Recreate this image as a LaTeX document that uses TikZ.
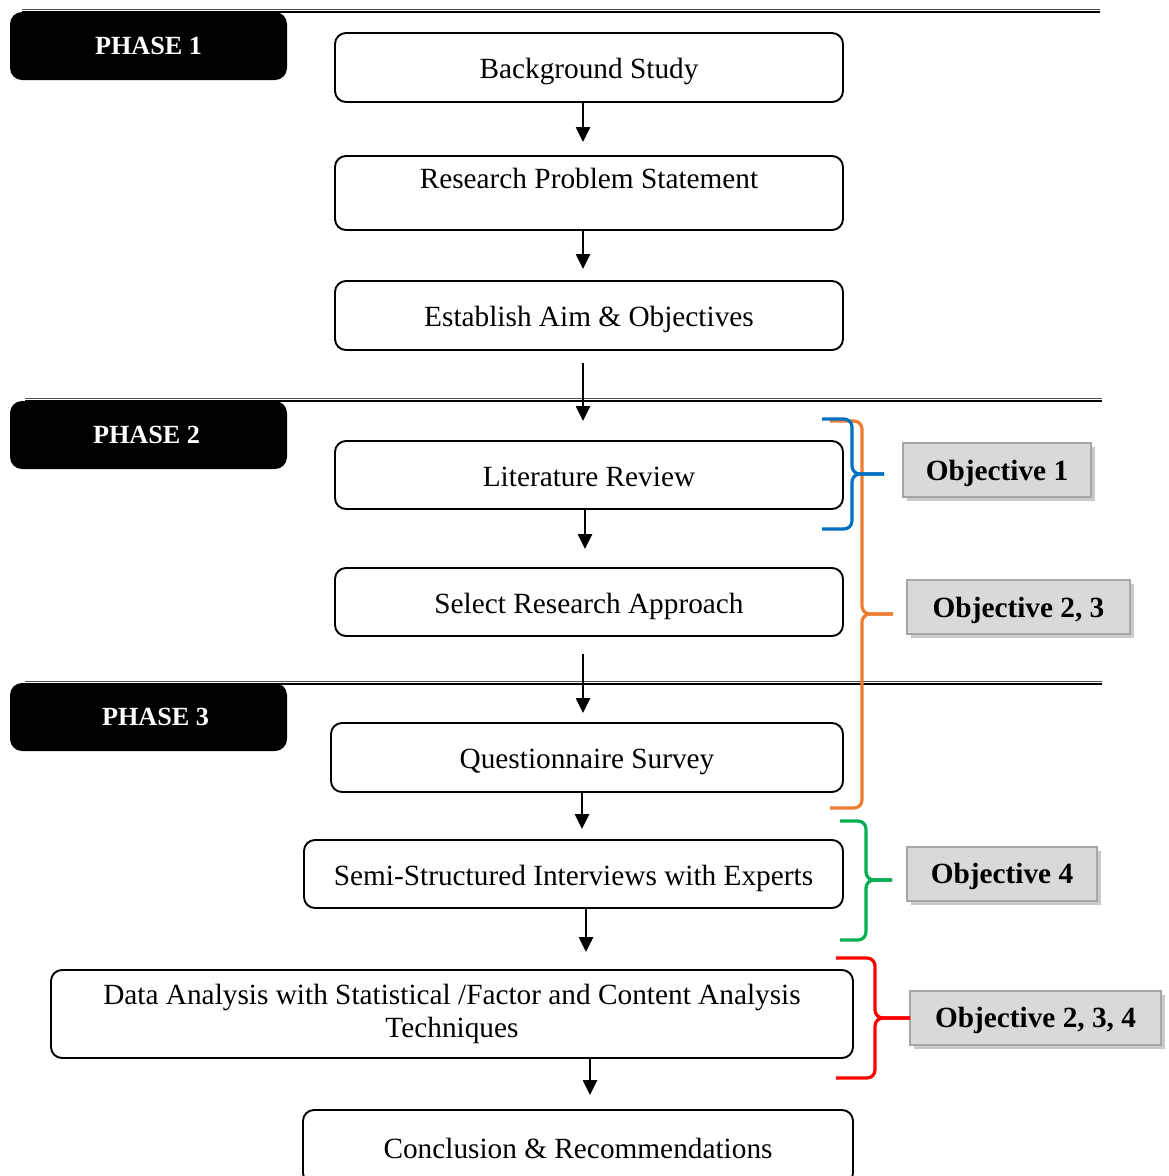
\documentclass[tikz,border=0pt]{standalone}
\usepackage{fontspec}
\setmainfont{Liberation Serif}
\usetikzlibrary{arrows.meta,shadows}
\definecolor{objblue}{HTML}{0070C0}
\definecolor{objorange}{HTML}{ED7D31}
\definecolor{objgreen}{HTML}{00B050}
\definecolor{objred}{HTML}{FF0000}
\definecolor{objfill}{HTML}{D9D9D9}
\definecolor{objline}{HTML}{A6A6A6}

\begin{document}
\begin{tikzpicture}[x=1pt,y=-1pt,line width=1.9pt,font=\fontsize{29.3}{33}\selectfont,
  stepbox/.style={draw,rounded corners=11pt,inner sep=0pt,align=center,text height=26pt,text depth=4pt},
  phasebox/.style={fill=black,rounded corners=12pt,minimum width=277pt,minimum height=68pt,inner sep=0pt,text=white,font=\fontsize{26.2}{30}\selectfont\bfseries},
  objbox/.style={draw=objline,line width=2pt,fill=objfill,inner sep=0pt,minimum height=54pt,text height=24pt,text depth=4pt,
    font=\fontsize{29.3}{33}\selectfont\bfseries,
    drop shadow={shadow xshift=4pt,shadow yshift=-4pt,opacity=0.35,fill=black!60}},
  arr/.style={-{Triangle[length=15pt,width=14pt]},line width=2.4pt},
  brace/.style={line width=3.2pt,rounded corners=8pt}]
\useasboundingbox (0,0) rectangle (1168,1176);
% phase separators
\foreach \y/\a/\b in {9/22/1100,398/25/1102,681/25/1102} {
  \draw[line width=0.8pt,black!70] (\a,\y) -- (\b,\y);
  \draw[line width=2pt] (\a,{\y+3}) -- (\b,{\y+3});
}
\node[phasebox] (ph1) at (148.5,46) {PHASE 1};
\node[phasebox] (ph2) at (148.5,435) {PHASE 2\hspace*{4pt}};
\node[phasebox] (ph3) at (148.5,717) {\hspace*{14pt}PHASE 3};
% steps
\node[stepbox,minimum width=508pt,minimum height=69pt] (bg) at (589,67.5) {Background Study};
\node[stepbox,minimum width=508pt,minimum height=74pt,text height=20pt,text depth=30pt] (rps) at (589,193) {Research Problem Statement};
\node[stepbox,minimum width=508pt,minimum height=69pt] (aim) at (589,315.5) {Establish Aim \& Objectives};
\node[stepbox,minimum width=508pt,minimum height=68pt] (litrev) at (589,475) {Literature Review};
\node[stepbox,minimum width=508pt,minimum height=68pt] (approach) at (589,602) {Select Research Approach};
\node[stepbox,minimum width=512pt,minimum height=69pt] (survey) at (587,757.5) {Questionnaire Survey};
\node[stepbox,minimum width=539pt,minimum height=68pt] (interview) at (573.5,874) {Semi-Structured Interviews with Experts};
\node[stepbox,minimum width=802pt,minimum height=88pt,text height=,text depth=] (analysis) at (452,1014) {Data Analysis with Statistical /Factor and Content Analysis\\Techniques};
\node[stepbox,minimum width=550pt,minimum height=74pt] (concl) at (578,1147) {Conclusion \& Recommendations};
% flow
\foreach \a/\b/\x/\s/\e in {bg/rps/583/0/13,rps/aim/583/0/11,aim/litrev/583/12/19,litrev/approach/585/0/18,
  approach/survey/583/17/9,survey/interview/582/0/10,interview/analysis/586/0/17,analysis/concl/590/0/14}
  \draw[arr,shorten <=\s pt,shorten >=\e pt] (\a.south -| \x,0) -- (\b.north -| \x,0);
% objectives
\node[objbox,minimum width=188pt] (obj1) at (997,470) {Objective 1};
\node[objbox,minimum width=223pt] (obj23) at (1018.5,607) {Objective 2, 3};
\node[objbox,minimum width=190pt] (obj4) at (1002,873.5) {Objective 4};
\node[objbox,minimum width=251pt] (obj234) at (1035.5,1017.5) {Objective 2, 3, 4};
\foreach \l/\s/\t/\b/\m/\e/\c in {830/862/421/808/614/893/objorange,822/852/419/529/474/884/objblue,
  840/866/821/940/880/892/objgreen,836/875/958/1078/1018/910/objred} {
  \draw[brace,\c] (\l,\t) -- (\s,\t) -- (\s,\m) -- (\e,\m);
  \draw[brace,\c] (\l,\b) -- (\s,\b) -- (\s,\m) -- (\e,\m);
}
\end{tikzpicture}
\end{document}
